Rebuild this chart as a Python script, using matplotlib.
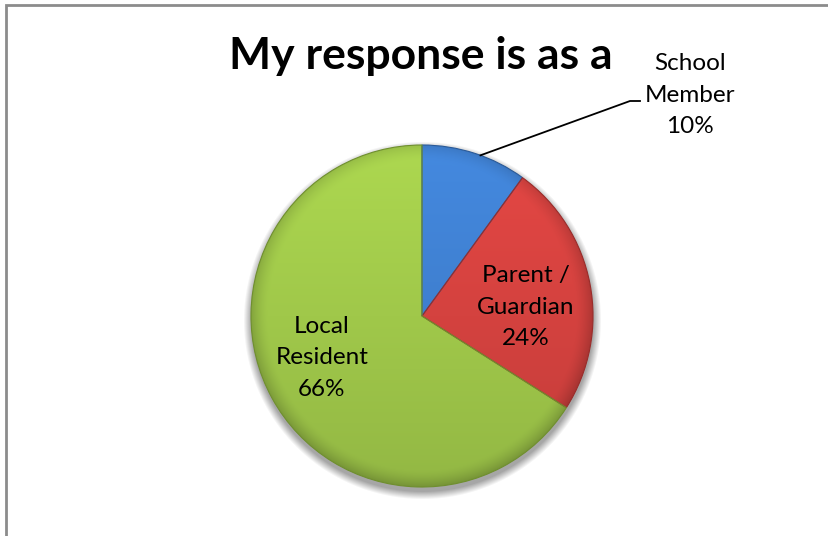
import numpy as np
import matplotlib.pyplot as plt
from matplotlib.patches import Rectangle

# survey answers
categories = ["School\nMember", "Parent /\nGuardian", "Local\nResident"]
shares = [10, 24, 66]
colours = ["#3f7fcf", "#d4423f", "#a0c84a"]
edge_colours = ["#2a5a98", "#9a2c2a", "#6f8f2e"]

W, H = 829, 536
cx, cy, R = 422, H - 316, 171

plt.rcParams['font.family'] = ['Lato', 'DejaVu Sans']

fig = plt.figure(figsize=(W / 100, H / 100), dpi=100)
ax = fig.add_axes([0, 0, 1, 1])

# chart frame
ax.add_patch(Rectangle((6.5, -10), W + 20, H - 4.5 + 10, fill=False,
                       edgecolor="#8c8c8c", linewidth=2))

# soft drop shadow under the pie
yy, xx = np.mgrid[0:H, 0:W]
d = np.hypot(xx - cx, (H - yy) - (cy - 4)) - R
sh = np.clip(1 - d / 8, 0, 1) * (d > -R) * 0.35
shadow = np.zeros((H, W, 4))
shadow[..., 3] = sh
ax.imshow(shadow, extent=(0, W, 0, H), zorder=1)

wedges, texts = ax.pie(shares, startangle=90, counterclock=False,
                       center=(cx, cy), radius=R, colors=colours,
                       wedgeprops=dict(linewidth=0.8), frame=True)

# shaded fill for each slice
n = 400
gx, gy = np.meshgrid(np.linspace(-1, 1, n), np.linspace(1, -1, n))
rr = np.hypot(gx, gy)
rim = np.clip((rr - 0.90) / 0.10, 0, 1)
for w, c, ec in zip(wedges, colours, edge_colours):
    base = np.array(plt.matplotlib.colors.to_rgb(c))
    f = 1.0 + 0.08 * gy - 0.18 * rim ** 1.5 + 0.06 * (gy > 0) * rim * gy
    img = np.clip(base[None, None, :] * f[..., None], 0, 1)
    im = ax.imshow(img, extent=(cx - R, cx + R, cy - R, cy + R), zorder=2)
    im.set_clip_path(w)
    w.set_zorder(3)
    w.set_facecolor('none')
    w.set_edgecolor(ec)

ax.set_xlim(0, W)
ax.set_ylim(0, H)
ax.set_aspect('equal')
ax.axis('off')

pct = [f"{v}%" for v in shares]
lab = [f"{c}\n{p}" for c, p in zip(categories, pct)]

label_pos = [(690, 95), (526, 307), (322, 358)]
for t, (x, y) in zip(lab, label_pos):
    ax.text(x, H - y, t, ha='center', va='center', fontsize=17.5,
            linespacing=1.6, zorder=5)

# leader line for the small slice
ang = np.deg2rad(90 - shares[0] * 3.6 / 2 - 2)
px, py = cx + R * np.cos(ang), cy + R * np.sin(ang)
ax.plot([px, 630, 640], [py, H - 101, H - 101], color='black', lw=1.3, zorder=5)

ax.text(421, H - 56, "My response is as a", ha='center', va='center',
        fontsize=32, fontweight='bold', zorder=5)

fig.savefig("out.png", dpi=100)
